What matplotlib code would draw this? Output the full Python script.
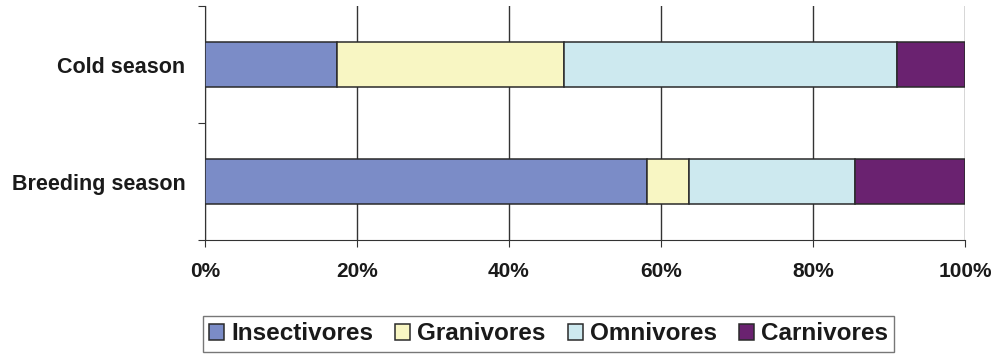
import matplotlib.pyplot as plt
from matplotlib.ticker import FixedLocator, PercentFormatter

plt.rcParams['font.family'] = ['Liberation Sans', 'DejaVu Sans']

seasons = ["Breeding season", "Cold season"]
groups = ["Insectivores", "Granivores", "Omnivores", "Carnivores"]
# percent share of each feeding guild, per season (breeding, cold)
insectivores = [58.2, 17.4]
granivores = [5.5, 29.9]
omnivores = [21.9, 43.8]
carnivores = [14.4, 8.9]
colors = ["#7B8CC7", "#F8F6C3", "#CDE9EF", "#6A2270"]

fig = plt.figure(figsize=(10.02, 3.54), dpi=100)
ax = fig.add_axes([0.2046, 0.322, 0.7584, 0.661])

left = [0, 0]
for name, vals, c in zip(groups, [insectivores, granivores, omnivores, carnivores], colors):
    ax.barh(seasons, vals, left=left, height=0.385, color=c, edgecolor="#2a2a2a",
            linewidth=1.1, label=name, zorder=3)
    left = [a + b for a, b in zip(left, vals)]

ax.set_xlim(0, 100)
ax.set_ylim(-0.5, 1.5)
ax.set_xticks(range(0, 101, 20))
ax.xaxis.set_major_formatter(PercentFormatter(decimals=0))
ax.grid(axis="x", color="#333333", linewidth=1.0, zorder=0)

ax.yaxis.set_major_locator(FixedLocator([-0.5, 0.5, 1.5]))
ax.yaxis.set_major_formatter(plt.NullFormatter())
ax.set_yticks([0, 1], minor=True)
ax.set_yticklabels(seasons, minor=True)
ax.tick_params(axis="y", which="minor", length=0, pad=14)
ax.tick_params(axis="y", which="major", length=5, color="#333333")
ax.tick_params(axis="x", length=5, color="#333333", pad=11)
for lab in ax.get_yticklabels(minor=True):
    lab.set_fontsize(15.5)
    lab.set_fontweight("bold")
    lab.set_color("#1a1a1a")
for lab in ax.get_xticklabels():
    lab.set_fontsize(15)
    lab.set_fontweight("bold")
    lab.set_color("#1a1a1a")

for s in ["top", "right"]:
    ax.spines[s].set_visible(False)
ax.spines["left"].set_color("#333333")
ax.spines["bottom"].set_color("#333333")

leg = fig.legend(loc="center", bbox_to_anchor=(548.5 / 1002, 1 - 334 / 354), ncol=4,
                 frameon=True, fancybox=False, edgecolor="#555555",
                 prop={"size": 17.5, "weight": "bold"}, handlelength=0.62,
                 handleheight=0.62, handletextpad=0.3, columnspacing=0.9,
                 borderpad=0.25, borderaxespad=0)
leg.get_frame().set_linewidth(1.0)
for t in leg.get_texts():
    t.set_color("#1a1a1a")

fig.savefig("out.png", dpi=100)
